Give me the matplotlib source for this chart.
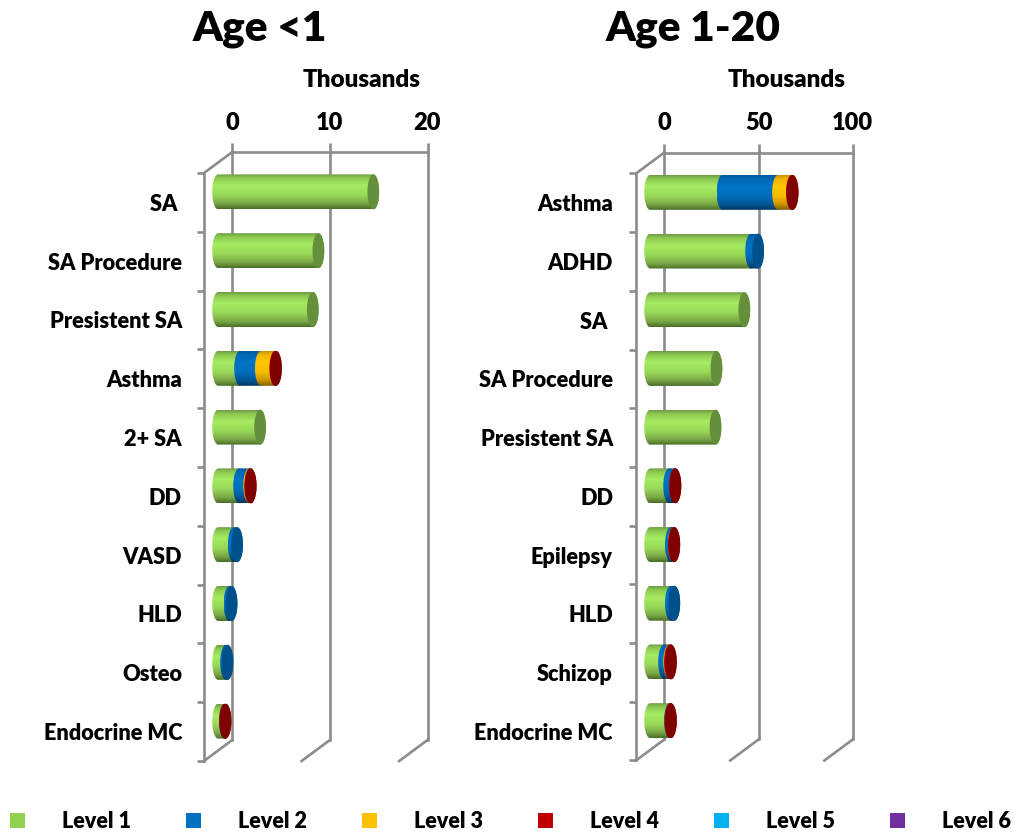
import numpy as np
import matplotlib
matplotlib.use("Agg")
import matplotlib.pyplot as plt
from matplotlib.patches import Patch, PathPatch
from matplotlib.path import Path
from matplotlib.transforms import Affine2D
from matplotlib.markers import TICKLEFT
from matplotlib.colors import to_rgb

plt.rcParams["font.family"] = ["Lato", "DejaVu Sans"]
plt.rcParams["font.weight"] = "heavy"

levels = ["Level 1", "Level 2", "Level 3", "Level 4", "Level 5", "Level 6"]
legend_colors = ["#92D050", "#0070C0", "#FFC000", "#C00000", "#00B0F0", "#7030A0"]

cats_infant = ["SA ", "SA Procedure", "Presistent SA", "Asthma", "2+ SA", "DD", "VASD", "HLD", "Osteo", "Endocrine MC"]
infant_l1 = [15.9, 10.27, 9.7, 2.25, 4.3, 2.15, 1.6, 1.16, 0.81, 0.68]
infant_l2 = [0, 0, 0, 2.13, 0, 1.03, 0.34, 0.21, 0.14, 0.02]
infant_l3 = [0, 0, 0, 1.47, 0, 0.1, 0, 0, 0, 0]
infant_l4 = [0, 0, 0, 0.07, 0, 0.05, 0, 0, 0, 0.05]

cats_youth = ["Asthma", "ADHD", "SA ", "SA Procedure", "Presistent SA", "DD", "Epilepsy", "HLD", "Schizop", "Endocrine MC"]
youth_l1 = [38.4, 53.6, 50.0, 35.2, 34.7, 10.1, 11.0, 11.0, 7.4, 10.5]
youth_l2 = [29.5, 3.7, 0, 0, 0, 3.1, 1.5, 1.8, 2.7, 0.2]
youth_l3 = [7.3, 0, 0, 0, 0, 0, 0.1, 0, 0.4, 0]
youth_l4 = [0.4, 0, 0, 0, 0, 0.2, 0.2, 0, 0.5, 0.3]

W, H = 1014, 835
WALL = "#8c8c8c"
LW = 1.9
DEPTH_X, DEPTH_Y = 28.3, 21.0
CAP_RX = 5.9
BAR_H = 0.595

# top edge to bottom edge shading for each series, plus the darker end cap
shades = [
    (["#6f9c42", "#8cc850", "#a6ec62", "#98d858", "#7aa846", "#4a6e27"], "#64903c"),
    (["#005a9a", "#0068b4", "#0074c6", "#006fbe", "#005596", "#003a66"], "#00508c"),
    (["#c79500", "#efb400", "#ffc800", "#f8bc00", "#c99600", "#806000"], "#a67d00"),
    (["#960000", "#b00000", "#c80000", "#c00000", "#a00000", "#6a0000"], "#800000"),
]
stops = [0.0, 0.1, 0.32, 0.6, 0.84, 1.0]


def gradient(cols):
    pos = np.linspace(0, 1, 64)
    rgb = np.array([to_rgb(c) for c in cols])
    return np.stack([np.interp(pos, stops, rgb[:, k]) for k in range(3)], axis=1)[:, None, :]


def cylinder_piece(ax, tf, x0, x1, y, rx, idx):
    ry = BAR_H / 2
    t = np.linspace(0, np.pi, 40)
    # left half ellipse going down, right half ellipse coming back up
    left_x = x0 - rx * np.sin(t)
    left_y = y - ry * np.cos(t)
    right_x = x1 + rx * np.sin(t)
    right_y = y + ry * np.cos(t)
    verts = np.column_stack([np.r_[left_x, right_x], np.r_[left_y, right_y]])
    im = ax.imshow(gradient(shades[idx][0]), extent=(x0 - rx, x1 + rx, y + ry, y - ry),
                   origin="upper", aspect="auto", interpolation="bilinear", zorder=3)
    im.set_transform(tf)
    patch = PathPatch(Path(np.vstack([verts, verts[:1]]), closed=True), transform=tf, visible=False)
    ax.add_patch(patch)
    im.set_clip_box(fig.bbox)
    im.set_clip_path(patch)


def end_cap(ax, tf, x1, y, rx, idx):
    ry = BAR_H / 2
    t = np.linspace(0, 2 * np.pi, 80)
    ax.fill(x1 + rx * np.sin(t), y + ry * np.cos(t), color=shades[idx][1], lw=0, transform=tf, zorder=4,
            clip_on=False)


def panel(box, xmax, xticks, cats, series, title, title_x, label_x, thousands_x):
    left, right, top, bottom = box
    ax = fig.add_axes([left / W, 1 - bottom / H, (right - left) / W, (bottom - top) / H])
    ax.set_autoscale_on(False)
    ax.set_xlim(0, xmax)
    ax.set_ylim(len(cats) - 0.5, -0.5)
    ax.patch.set_visible(False)
    for s in ax.spines.values():
        s.set_visible(False)
    ax.spines["top"].set_visible(True)
    ax.spines["top"].set_color(WALL)
    ax.spines["top"].set_linewidth(LW)

    ax.xaxis.tick_top()
    ax.set_xticks(xticks)
    ax.tick_params(axis="x", length=6.5, width=LW, color=WALL, pad=6.5, labelsize=17)
    ax.set_yticks([])

    # back wall lines plus the floor and side wall running to the front
    front = ax.transData + Affine2D().translate(-DEPTH_X, -DEPTH_Y)
    mid = ax.transData + Affine2D().translate(-DEPTH_X / 2, -DEPTH_Y / 2)
    y0, y1 = -0.5, len(cats) - 0.5
    for xt in xticks:
        ax.plot([xt, xt], [y0, y1], color=WALL, lw=LW, zorder=1, clip_on=False)
    px = (right - left) / xmax
    dy = DEPTH_Y / ((bottom - top) / len(cats))
    for xt in xticks:
        ax.plot([xt, xt - DEPTH_X / px], [y1, y1 + dy], color=WALL, lw=LW, zorder=1, clip_on=False)
    ax.plot([0, -DEPTH_X / px], [y0, y0 + dy], color=WALL, lw=LW, zorder=1, clip_on=False)
    ax.plot([0, 0], [y0, y1], color=WALL, lw=LW, transform=front, zorder=1, clip_on=False)
    ax.plot(np.zeros(len(cats) + 1), np.arange(len(cats) + 1) - 0.5, ls="none", marker=TICKLEFT,
            ms=5, mew=LW, color=WALL, transform=front, zorder=1, clip_on=False)

    rx = CAP_RX / px
    values = np.array(series)
    for i in range(len(cats)):
        start = 0.0
        last = 0
        for j in range(values.shape[0]):
            v = values[j, i]
            if v <= 0:
                continue
            cylinder_piece(ax, mid, start, start + v, i, rx, j)
            start += v
            last = j
        end_cap(ax, mid, start, i, rx, last)
        ax.annotate(cats[i], xy=(0, i), xycoords=("axes fraction", "data"),
                    xytext=(label_x - left, -23.0), textcoords="offset pixels",
                    ha="right", va="center", fontsize=15.7, color="black")

    fig.text(title_x / W, 1 - 29 / H, title, fontsize=30.5, ha="center", va="center")
    fig.text(thousands_x / W, 1 - 80 / H, "Thousands", fontsize=17.5, ha="center", va="center")


fig = plt.figure(figsize=(W / 100, H / 100), dpi=100)

panel((232.3, 427.5, 152, 740), 20, [0, 10, 20], cats_infant,
      [infant_l1, infant_l2, infant_l3, infant_l4], "Age <1", 260, 182, 362)
panel((664.3, 852.7, 152.5, 739.5), 100, [0, 50, 100], cats_youth,
      [youth_l1, youth_l2, youth_l3, youth_l4], "Age 1-20", 693, 613, 787)

handles = [Patch(facecolor=c, edgecolor="none") for c in legend_colors]
fs = 15.5
fig.legend(handles, levels, ncol=6, loc="lower left", bbox_to_anchor=(10 / W, 1 - 832 / H),
           frameon=False, fontsize=fs, borderpad=0, borderaxespad=0,
           handlelength=15 * 0.72 / fs, handleheight=15 * 0.72 / fs,
           handletextpad=37 * 0.72 / fs, columnspacing=55 * 0.72 / fs)

fig.savefig("out.png", dpi=100)
